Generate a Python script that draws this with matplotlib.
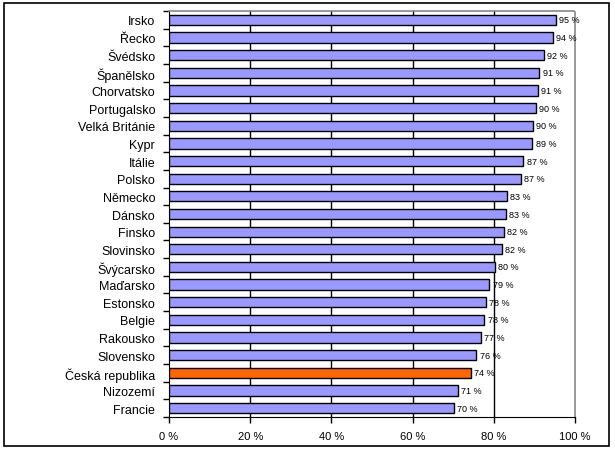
import matplotlib
matplotlib.use("Agg")
import matplotlib.pyplot as plt
from matplotlib.patches import Rectangle
import numpy as np

countries = ["Irsko", "Řecko", "Švédsko", "Španělsko", "Chorvatsko", "Portugalsko",
             "Velká Británie", "Kypr", "Itálie", "Polsko", "Německo", "Dánsko",
             "Finsko", "Slovinsko", "Švýcarsko", "Maďarsko", "Estonsko", "Belgie",
             "Rakousko", "Slovensko", "Česká republika", "Nizozemí", "Francie"]
values = [95.2, 94.6, 92.3, 91.2, 90.9, 90.3, 89.7, 89.5, 87.3, 86.7, 83.3, 82.9,
          82.4, 82.0, 80.3, 78.9, 78.1, 77.7, 76.8, 75.7, 74.3, 71.2, 70.2]
value_labels = ["95 %", "94 %", "92 %", "91 %", "91 %", "90 %", "90 %", "89 %", "87 %",
                "87 %", "83 %", "83 %", "82 %", "82 %", "80 %", "79 %", "78 %", "78 %",
                "77 %", "76 %", "74 %", "71 %", "70 %"]
highlight = "Česká republika"
xticks = [0, 20, 40, 60, 80, 100]
xtick_labels = ["0 %", "20 %", "40 %", "60 %", "80 %", "100 %"]

plt.rcParams['font.family'] = ['Liberation Sans', 'DejaVu Sans']

fig = plt.figure(figsize=(6.15, 4.52), dpi=100)
fig.patches.append(Rectangle((4/615, 5/452), 605/615, 443/452, transform=fig.transFigure,
                             fill=False, edgecolor='black', linewidth=1.2))
ax = fig.add_axes([169/615, 1 - 418/452, 406/615, 406/452])

n = len(countries)
y = np.arange(n)
colors = ['#FF6600' if c == highlight else '#9999FF' for c in countries]
ax.barh(y, values, height=0.58, color=colors, edgecolor='black', linewidth=1.0, zorder=3)
for yi, v, lab in zip(y, values, value_labels):
    ax.text(v + 0.8, yi, lab, va='center', ha='left', fontsize=6.5, zorder=4)

ax.set_xlim(0, 100)
ax.set_ylim(n - 0.5, -0.5)
ax.set_xticks(xticks)
ax.set_xticklabels(xtick_labels, fontsize=8)
ax.set_yticks(y)
ax.set_yticklabels(countries, fontsize=9)
ax.set_yticks(np.arange(-0.5, n, 1), minor=True)
ax.tick_params(axis='y', which='major', length=0, pad=10)
ax.tick_params(axis='y', which='minor', length=4, direction='out', width=1)
ax.tick_params(axis='x', length=4, direction='out', width=1, pad=6)

for gx in [20, 40, 60, 80]:
    ax.axvline(gx, color='black', linewidth=1, zorder=1)

ax.spines['left'].set_color('black')
ax.spines['bottom'].set_color('black')
for s in ['top', 'right']:
    ax.spines[s].set_color('#888888')
    ax.spines[s].set_linestyle((0, (1, 1)))
    ax.spines[s].set_linewidth(1.2)

fig.savefig("out.png", dpi=100)
